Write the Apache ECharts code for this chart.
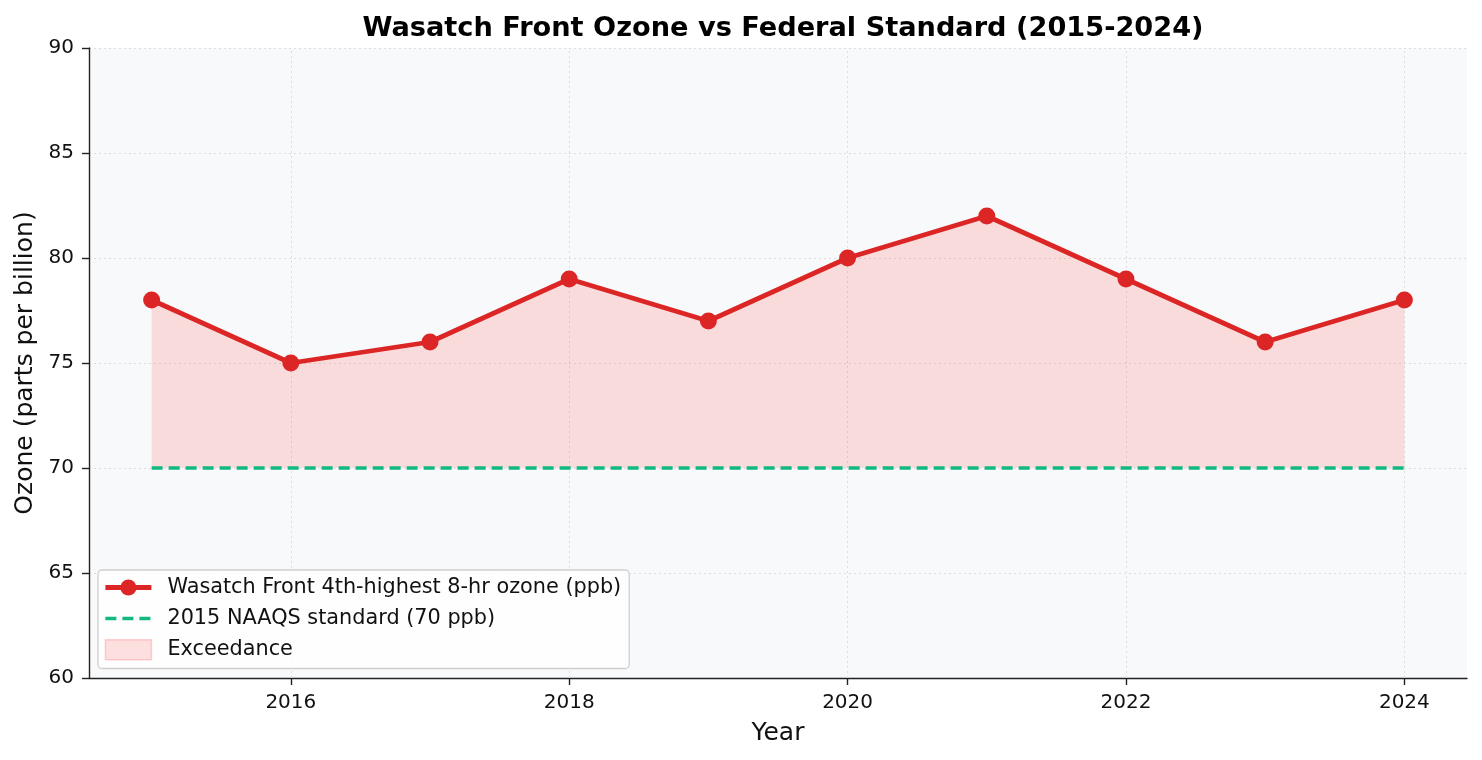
<!DOCTYPE html>
<html><head><meta charset="utf-8">
<script src="https://cdn.jsdelivr.net/npm/echarts@6/dist/echarts.min.js"></script>
<style>html,body{margin:0;padding:0;background:#fff}#c{width:1482px;height:760px}</style>
</head><body><div id="c"></div>
<script>
const years = [2015, 2016, 2017, 2018, 2019, 2020, 2021, 2022, 2023, 2024];
const ozone = [78, 75, 76, 79, 77, 80, 82, 79, 76, 78];
const standard = 70;
const xTicks = [2016, 2018, 2020, 2022, 2024];
const yTicks = [60, 65, 70, 75, 80, 85, 90];

const F = 'DejaVu Sans, Liberation Sans, sans-serif';
const chart = echarts.init(document.getElementById('c'));
const ozoneData = years.map((y, i) => [y, ozone[i]]);
const stdData = years.map(y => [y, standard]);
const FILL = 'rgba(255,61,64,0.16)';

chart.setOption({
  animation: false,
  backgroundColor: '#ffffff',
  title: {
    text: 'Wasatch Front Ozone vs Federal Standard (2015-2024)',
    left: 778, top: 10, textAlign: 'center',
    textStyle: {fontFamily: F, fontSize: 27.2, fontWeight: 'bold', color: '#000'}
  },
  grid: {left: 89, right: 15, top: 48, bottom: 82, show: true, backgroundColor: '#f8f9fb', borderWidth: 0},
  legend: {
    orient: 'vertical', left: 98, top: 570,
    backgroundColor: 'rgba(255,255,255,0.85)', borderColor: '#cfcfcf', borderWidth: 1.3, borderRadius: 4,
    padding: [7, 8, 8, 5], itemGap: 10, itemWidth: 46, itemHeight: 20,
    textStyle: {fontFamily: F, fontSize: 20.8, color: '#111', padding: [0, 0, 0, 11]},
    data: [
      {name: 'Wasatch Front 4th-highest 8-hr ozone (ppb)', lineStyle: {width: 4.8, color: '#dc2626'}},
      {name: '2015 NAAQS standard (70 ppb)', itemStyle: {opacity: 0}, lineStyle: {width: 3.6, color: '#10b981', type: [11, 6]}},
      {name: 'Exceedance', icon: 'rect', itemStyle: {color: FILL, borderColor: 'rgba(255,61,64,0.22)', borderWidth: 1.5}}
    ]
  },
  xAxis: {
    type: 'value', min: 2014.55, max: 2024.45,
    name: 'Year', nameLocation: 'middle', nameGap: 43,
    nameTextStyle: {fontFamily: F, fontSize: 25, color: '#111'},
    axisLine: {show: true, lineStyle: {color: '#222', width: 1.4}},
    axisTick: {show: true, customValues: xTicks, length: 7, lineStyle: {color: '#222', width: 1.4}},
    axisLabel: {customValues: xTicks, fontFamily: F, fontSize: 20, color: '#111', margin: 15, formatter: v => String(v)},
    splitLine: {show: false}
  },
  yAxis: {
    type: 'value', min: 60, max: 90, interval: 5,
    name: 'Ozone (parts per billion)', nameLocation: 'middle', nameGap: 48,
    nameTextStyle: {fontFamily: F, fontSize: 25, color: '#111'},
    axisLine: {show: true, lineStyle: {color: '#222', width: 1.4}},
    axisTick: {show: true, length: 7, lineStyle: {color: '#222', width: 1.4}},
    axisLabel: {fontFamily: F, fontSize: 20, color: '#111', margin: 15, customValues: yTicks},
    splitLine: {show: true, lineStyle: {color: '#dddddd', type: [2, 3], width: 1}}
  },
  series: [
    {
      name: 'Exceedance', type: 'line', data: ozoneData, symbol: 'none', z: 1,
      lineStyle: {width: 1, color: 'rgba(255,61,64,0.18)'},
      itemStyle: {color: FILL},
      areaStyle: {origin: standard, color: FILL, opacity: 1},
      markLine: {
        silent: true, symbol: 'none', label: {show: false}, z: 1,
        lineStyle: {color: '#dddddd', type: [2, 3], width: 1},
        data: xTicks.map(v => ({xAxis: v}))
      }
    },
    {
      name: '2015 NAAQS standard (70 ppb)', type: 'line', data: stdData, symbol: 'none', z: 3,
      lineStyle: {color: '#10b981', width: 3.6, type: [11, 6]},
      itemStyle: {color: '#10b981'}
    },
    {
      name: 'Wasatch Front 4th-highest 8-hr ozone (ppb)', type: 'line', data: ozoneData, z: 4,
      symbol: 'circle', symbolSize: 17,
      lineStyle: {color: '#dc2626', width: 4.8},
      itemStyle: {color: '#dc2626'}
    }
  ]
});
</script></body></html>
